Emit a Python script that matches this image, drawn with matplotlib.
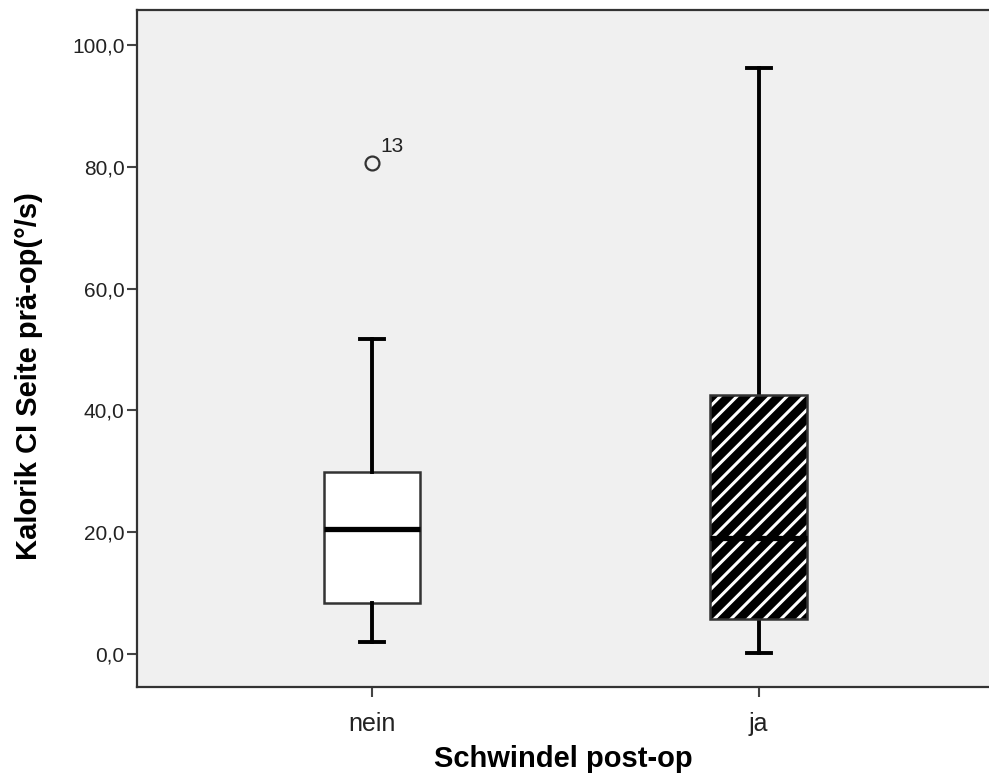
import matplotlib.pyplot as plt
from matplotlib.patches import PathPatch
from matplotlib.ticker import FuncFormatter

# Kalorik CI Seite prä-op by Schwindel post-op
groups = ['nein', 'ja']
q1 = [8.3, 5.7]
median = [20.5, 19.0]
q3 = [29.9, 42.5]
whisker_lo = [2.0, 0.1]
whisker_hi = [51.8, 96.3]
outliers = [[80.7], []]
outlier_ids = [['13'], []]

plt.rcParams['font.family'] = ['Liberation Sans', 'DejaVu Sans']
plt.rcParams['hatch.linewidth'] = 2.2

fig = plt.figure(figsize=(9.89, 7.82), dpi=100)
ax = fig.add_axes([0.1385, 0.1215, 0.8615, 0.8657])
ax.set_facecolor('#f0f0f0')

stats = []
for i, g in enumerate(groups):
    stats.append(dict(label=g, med=median[i], q1=q1[i], q3=q3[i],
                      whislo=whisker_lo[i], whishi=whisker_hi[i],
                      fliers=outliers[i]))

pos = list(range(len(groups)))
bp = ax.bxp(stats, positions=pos, widths=0.25, capwidths=0.062,
            patch_artist=True, showfliers=True,
            boxprops=dict(facecolor='white', edgecolor='#333333', linewidth=1.8),
            whiskerprops=dict(color='black', linewidth=2.8),
            capprops=dict(color='black', linewidth=2.8),
            medianprops=dict(color='black', linewidth=3.8, solid_capstyle='butt'),
            flierprops=dict(marker='o', markerfacecolor='none',
                            markeredgecolor='#333333', markersize=10,
                            markeredgewidth=1.6))

# second group: black box with white diagonal stripes, dark outline on top
hb = bp['boxes'][1]
hb.set(facecolor='black', edgecolor='white', hatch='//', linewidth=0)
ax.add_patch(PathPatch(hb.get_path(), fill=False, edgecolor='#333333',
                       linewidth=1.8, zorder=2.05))

for i in pos:
    for val, lab in zip(outliers[i], outlier_ids[i]):
        ax.annotate(lab, (i, val), xytext=(6, 5), textcoords='offset points',
                    fontsize=15, color='#222222', ha='left', va='bottom')

ax.set_xlim(-0.608, 1.596)
ax.set_ylim(-5.42, 105.75)
ax.set_yticks(range(0, 101, 20))
ax.yaxis.set_major_formatter(FuncFormatter(lambda v, p: f'{v:.1f}'.replace('.', ',')))
ax.set_xticks(pos)
ax.set_xticklabels(groups)

for s in ['left', 'top', 'bottom']:
    ax.spines[s].set_color('#333333')
    ax.spines[s].set_linewidth(1.6)
ax.spines['right'].set_visible(False)

ax.tick_params(axis='both', length=7, width=1.5, color='#444444',
               labelcolor='#222222', direction='out')
ax.tick_params(axis='y', labelsize=15, pad=2)
ax.tick_params(axis='x', labelsize=18, pad=11)

ax.set_ylabel('Kalorik CI Seite prä-op(°/s)', fontsize=21, fontweight='bold')
ax.set_xlabel('Schwindel post-op', fontsize=21, fontweight='bold')
ax.yaxis.set_label_coords(-0.11, 0.46)
ax.xaxis.set_label_coords(0.5, -0.086)

fig.savefig('out.png', dpi=100)
